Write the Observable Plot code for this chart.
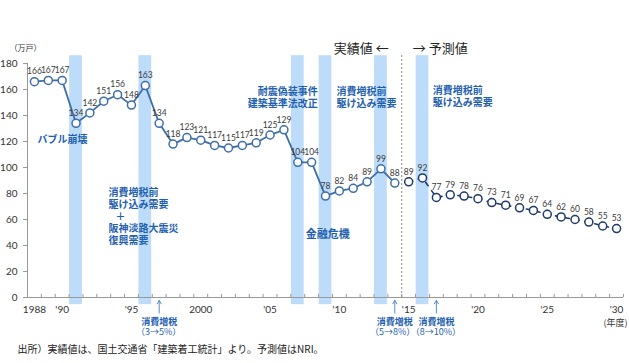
<!DOCTYPE html>
<html><head><meta charset="utf-8">
<script src="https://cdn.jsdelivr.net/npm/d3@7"></script>
<script src="https://cdn.jsdelivr.net/npm/@observablehq/plot@0.6"></script>
<style>body{margin:0;background:#fff}</style>
</head><body><div id="chart"></div>
<script>
const actualYears = [1988,1989,1990,1991,1992,1993,1994,1995,1996,1997,1998,1999,2000,2001,2002,2003,2004,2005,2006,2007,2008,2009,2010,2011,2012,2013,2014];
const actualValues = [166,167,167,134,142,151,156,148,163,134,118,123,121,117,115,117,119,125,129,104,104,78,82,84,89,99,88];
const forecastYears = [2015,2016,2017,2018,2019,2020,2021,2022,2023,2024,2025,2026,2027,2028,2029,2030];
const forecastValues = [89,92,77,79,78,76,73,71,69,67,64,62,60,58,55,53];
const tickYears = [1988,1990,1995,2000,2005,2010,2015,2020,2025,2030];
const tickLabels = ["1988","'90","'95","2000","'05","'10","'15","'20","'25","'30"];
const yTicks = [0,20,40,60,80,100,120,140,160,180];
const bandYears = [1991,1996,2007,2009,2013,2016];
const taxYears = [1997,2014,2017];
const taxLabel = "消費増税";
const taxRates = ["（3→5%）","（5→8%）（8→10%）"];
const boundaryYear = 2014.5;
const unitLabel = "（万戸）";
const yearUnit = "(年度)";
const labelActual = "実績値 ←";
const labelForecast = "→ 予測値";
const caption = "出所）実績値は、国土交通省「建築着工統計」より。予測値はNRI。";
const noteBubble = "バブル崩壊";
const note1996 = "消費増税前\n駆け込み需要\n\u2002\u2009＋\n阪神淡路大震災\n復興需要";
const note2007 = "耐震偽装事件\n建築基準法改正";
const noteRush = "消費増税前\n駆け込み需要";
const noteCrisis = "金融危機";

const actual = actualYears.map((y,i)=>({year:y, value:actualValues[i]}));
const forecast = forecastYears.map((y,i)=>({year:y, value:forecastValues[i]}));
const allYears = actualYears.concat(forecastYears);
const edges = allYears.map(y=>y-0.5).concat([allYears[allYears.length-1]+0.5]);

const jp = "'Noto Sans CJK JP', sans-serif";
const num = "Lato, 'Open Sans', sans-serif";
const blue = "#1f5fb0";
const lineBlue = "#3e6ea9";
const navy = "#1f3a68";

const ann = (data, opts) => Plot.text(data, {fontFamily: jp, fontWeight: "bold", fontSize: 10, lineHeight: 1.21, fill: blue, ...opts});

const chart = Plot.plot({
  width: 629, height: 363,
  marginLeft: 27, marginRight: 6, marginTop: 63, marginBottom: 66,
  x: {domain: [1987.5, 2030.5], axis: null},
  y: {domain: [0, 180], axis: null},
  style: {background: "#fff", color: "#333"},
  marks: [
    Plot.rect(bandYears, {x1: d=>d-0.46, x2: d=>d+0.46, y1: -5.5, y2: 186, fill: "#bcdcfa"}),
    Plot.ruleX([boundaryYear], {y1: 0, y2: 187, stroke: "#888", strokeDasharray: "2,2", strokeWidth: 1}),
    Plot.ruleY([0], {x1: 1987.5, x2: 2030.5, stroke: "#999"}),
    Plot.ruleX([1987.5], {y1: 0, y2: 180, stroke: "#999"}),
    Plot.ruleX(edges, {x: d=>d, y1: 0, y2: 2.4, stroke: "#999"}),
    Plot.axisY({ticks: yTicks, label: null, tickSize: 4, tickPadding: 6, fontSize: 10, fontFamily: num, stroke: "#999", fill: "#333"}),
    Plot.text(tickYears, {x: d=>d, y: 0, dy: 12, text: (d,i)=>tickLabels[i], fontSize: 10, fontFamily: num, fill: "#333"}),
    Plot.line(actual, {x: "year", y: "value", stroke: lineBlue, strokeWidth: 1.8}),
    Plot.line(forecast, {x: "year", y: "value", stroke: navy, strokeWidth: 1.6, strokeDasharray: "4,6"}),
    Plot.dot(actual, {x: "year", y: "value", r: 4, fill: "#fff", stroke: lineBlue, strokeWidth: 1.5}),
    Plot.dot(forecast, {x: "year", y: "value", r: 4, fill: "#fff", stroke: navy, strokeWidth: 1.5}),
    Plot.text(actual, {x: "year", y: "value", text: "value", dy: -10, fontSize: 8.5, fontFamily: num, fill: "#3a3a3a"}),
    Plot.text(forecast, {x: "year", y: "value", text: "value", dy: -10, fontSize: 8.5, fontFamily: num, fill: "#3a3a3a"}),
    ann([noteBubble], {x: 1988.22, y: 121.5, textAnchor: "start", fontSize: 10}),
    ann([note1996], {x: 1993.35, y: 62.7, textAnchor: "start"}),
    ann([note2007], {x: 2008.44, y: 154.3, textAnchor: "end"}),
    ann([noteRush], {x: 2009.8, y: 154.3, textAnchor: "start"}),
    ann([noteRush], {x: 2016.74, y: 154.6, textAnchor: "start"}),
    ann([noteCrisis], {x: 2009.16, y: 49.2, textAnchor: "middle", fontSize: 11}),
    Plot.arrow(taxYears, {x: d=>d, y1: -12, y2: -2.2, stroke: "#5b8bc8", strokeWidth: 1, headLength: 6, headAngle: 60}),
    ann(taxYears, {x: d=>d, y: -18.5, text: ()=>taxLabel, textAnchor: "middle", fontSize: 9}),
    Plot.text([taxRates[0]], {x: 1996.96, y: -27, fontSize: 9, fontFamily: jp, fill: blue}),
    Plot.text([taxRates[1]], {x: 2015.5, y: -27, fontSize: 9, fontFamily: jp, fill: blue}),
    Plot.text([yearUnit], {x: 2030.5, dx: 4, y: -20, textAnchor: "end", fontSize: 9, fontFamily: jp, fill: "#333"}),
    Plot.text([labelActual], {x: 2013.56, y: 191.5, textAnchor: "end", fontSize: 13, fontFamily: jp, fill: "#222"}),
    Plot.text([labelForecast], {x: 2015.3, y: 191.5, textAnchor: "start", fontSize: 13, fontFamily: jp, fill: "#222"}),
    Plot.text([unitLabel], {frameAnchor: "top-left", dx: -2, dy: -18, textAnchor: "middle", fontSize: 8, fontFamily: jp, fill: "#333"}),
    Plot.text([caption], {frameAnchor: "bottom-left", dx: -10, dy: 55, textAnchor: "start", fontSize: 10, fontFamily: jp, fill: "#222"})
  ]
});
document.getElementById("chart").append(chart);
</script>
</body></html>
